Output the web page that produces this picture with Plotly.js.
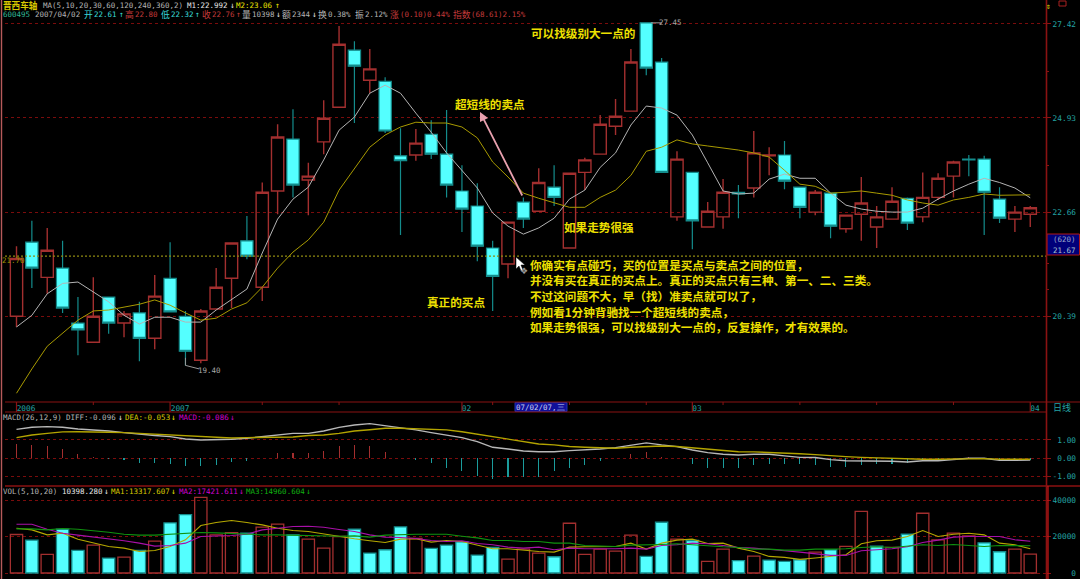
<!DOCTYPE html>
<html><head><meta charset="utf-8">
<script src="https://cdn.plot.ly/plotly-3.0.1.min.js"></script>
<style>html,body{margin:0;padding:0;background:#000;overflow:hidden}</style>
</head><body><div id="chart" style="width:1080px;height:579px"></div>
<script>
const open_=[20.39,21.98,21.21,21.41,20.25,19.86,20.79,20.25,20.46,19.94,21.19,20.39,19.50,20.54,21.19,22.01,21.00,23.15,24.40,23.41,24.33,25.20,26.70,25.90,25.87,23.99,24.01,24.52,24.03,23.15,22.80,21.85,21.50,22.89,22.68,23.24,21.85,23.59,24.03,24.72,25.10,27.45,26.38,22.55,23.59,22.32,22.55,23.12,23.22,23.99,24.01,23.24,22.66,23.10,22.28,22.61,22.32,22.50,22.98,22.55,23.00,23.50,23.91,23.91,22.96,22.50,22.61];
const high_=[21.89,22.46,22.30,22.01,20.79,21.21,20.79,20.50,20.69,21.26,21.98,20.50,20.54,21.41,21.98,22.57,23.35,24.77,25.15,23.82,25.38,27.36,26.94,26.73,25.98,24.67,24.65,24.87,25.13,23.76,23.33,22.01,22.43,23.00,23.69,23.76,23.59,23.94,25.00,25.41,26.73,27.45,26.49,24.10,23.59,22.89,23.43,23.29,24.60,24.20,24.35,23.24,23.17,23.10,22.59,23.48,22.80,23.24,23.00,23.59,23.57,23.87,24.01,23.99,23.24,22.80,22.80];
const low_=[20.17,20.98,20.86,20.46,19.60,19.86,20.03,19.96,19.48,19.72,20.48,19.40,19.44,20.54,20.56,21.60,20.71,22.61,23.00,22.59,24.03,25.20,24.80,25.56,24.55,22.14,23.87,23.91,23.00,22.21,21.56,20.50,21.19,22.30,22.68,22.80,21.85,23.17,24.03,24.50,25.10,26.03,23.59,22.46,21.82,22.32,22.28,22.52,23.00,23.52,23.19,22.52,22.59,22.07,22.19,22.01,21.85,22.50,22.25,22.43,22.94,23.00,23.50,22.14,22.41,22.21,22.32];
const close_=[21.62,21.41,21.80,20.56,20.11,20.39,20.25,20.44,19.94,20.81,20.48,19.68,20.50,21.00,21.96,21.67,23.12,24.45,23.29,23.50,24.92,26.86,26.27,26.20,24.60,23.87,24.30,24.03,23.29,22.73,21.89,21.23,22.43,22.50,23.35,23.00,23.57,23.89,24.77,24.97,26.38,26.22,23.59,23.91,22.46,22.68,23.12,23.08,24.06,24.01,23.38,22.77,23.12,22.34,22.59,22.87,22.55,22.91,22.41,23.00,23.45,23.84,23.89,23.12,22.52,22.66,22.76];
const ma1=[20.17,20.41,20.86,21.08,21.11,20.90,20.69,20.41,20.23,20.37,20.37,20.27,20.27,20.52,20.73,20.96,21.74,22.50,22.96,23.24,23.89,24.62,24.95,25.56,25.77,25.56,25.05,24.57,24.06,23.64,23.22,22.64,22.34,22.16,22.30,22.52,22.96,23.17,23.71,24.06,24.75,25.23,25.18,25.00,24.50,23.82,23.15,23.08,23.10,23.43,23.55,23.45,23.45,23.10,22.82,22.73,22.68,22.66,22.66,22.75,22.96,23.15,23.31,23.45,23.35,23.22,22.99];
const ma2=[18.86,19.33,19.78,20.05,20.31,20.50,20.52,20.58,20.64,20.73,20.62,20.46,20.31,20.35,20.54,20.67,21.00,21.41,21.76,22.03,22.43,23.17,23.69,24.20,24.50,24.70,24.82,24.80,24.80,24.70,24.43,23.84,23.48,23.10,22.98,22.87,22.77,22.77,23.00,23.17,23.52,24.10,24.20,24.38,24.28,24.23,24.18,24.13,24.06,23.96,23.64,23.31,23.26,23.10,23.12,23.15,23.10,23.05,22.94,22.87,22.82,22.94,23.00,23.08,23.05,23.05,23.06];
const lastPrice=[21.67];
const priceTicks=[27.42,24.93,22.66,20.39];
const priceTickText=['27.42','24.93','22.66','20.39'];
const priceMinor=[26.14,23.76,21.52,20.96];
const diff=[1.58,1.69,1.73,1.69,1.60,1.55,1.49,1.40,1.31,1.24,1.18,1.05,1.00,1.00,1.04,1.09,1.18,1.31,1.36,1.36,1.49,1.69,1.82,1.89,1.78,1.67,1.55,1.40,1.27,1.13,0.91,0.60,0.51,0.40,0.36,0.36,0.42,0.45,0.51,0.58,0.73,0.84,0.73,0.64,0.45,0.31,0.22,0.18,0.22,0.22,0.13,0.05,0.04,-0.07,-0.13,-0.13,-0.13,-0.16,-0.20,-0.13,-0.13,-0.05,0,0,-0.11,-0.11,-0.096];
const dea=[1.13,1.27,1.36,1.44,1.45,1.45,1.42,1.40,1.36,1.33,1.27,1.24,1.18,1.15,1.11,1.13,1.13,1.15,1.16,1.24,1.27,1.36,1.49,1.56,1.64,1.64,1.60,1.55,1.55,1.45,1.31,1.18,1.04,0.91,0.78,0.73,0.64,0.60,0.58,0.55,0.60,0.65,0.67,0.64,0.58,0.51,0.44,0.36,0.35,0.33,0.29,0.25,0.20,0.13,0.09,0.05,0.02,0,-0.04,-0.05,-0.05,-0.04,-0.02,-0.02,-0.05,-0.05,-0.053];
const macd=[0.76,0.73,0.69,0.51,0.24,0.07,-0.05,-0.09,-0.25,-0.25,-0.31,-0.44,-0.44,-0.36,-0.22,-0.13,0.04,0.31,0.27,0.29,0.38,0.69,0.71,0.69,0.36,0.02,-0.11,-0.25,-0.51,-0.69,-0.95,-1.13,-1.04,-1.0,-1.0,-0.69,-0.51,-0.36,-0.15,0.02,0.25,0.36,0.05,0.02,-0.33,-0.51,-0.51,-0.51,-0.36,-0.31,-0.33,-0.33,-0.36,-0.45,-0.45,-0.36,-0.33,-0.29,-0.27,-0.15,-0.07,0.04,0.05,0.04,-0.05,-0.05,-0.086];
const macdTicks=[1,0,-1];
const macdTickText=['\u00a01.00','\u00a00.00','-1.00'];
const vol=[21090,18000,10180,24000,12360,15270,8180,8730,12360,17450,27450,32000,41450,20910,22180,21820,25090,26730,20910,18540,13640,20000,24000,10910,12730,25270,18910,13450,15270,17090,9820,14000,7640,13090,10910,8910,27270,10180,13090,12000,20730,9090,27820,18540,17820,6360,13090,6730,9270,7090,6360,7270,11450,12730,14550,33820,14730,14000,21270,32730,18180,21820,20360,16540,11640,13090,10398];
const volFalling=[0,1,0,1,1,0,1,0,1,0,1,1,0,0,0,1,0,0,1,0,0,0,1,1,1,1,0,1,1,1,1,1,0,0,0,1,0,0,0,0,0,1,1,0,1,0,0,1,0,1,1,1,0,1,0,0,1,0,1,0,0,0,0,1,1,0,0];
const volMa1=[24540,23640,20910,21820,18540,16360,14540,13640,11820,12360,14540,18180,26000,27640,28730,27640,26360,24540,23270,22730,21270,20000,18730,17640,16730,18540,18730,16910,17820,17270,15090,13270,13270,12360,11820,11450,14180,14360,14360,14540,16360,13090,16360,18000,18540,16180,16360,13640,11820,9090,8550,7450,8180,9090,10000,16000,17640,18000,20000,23270,20000,21270,21820,20910,16360,15450,13318];
const volMa2=[26730,26730,24000,21820,20730,19820,18730,17640,16360,14730,15090,16360,20000,20180,20540,21270,23640,24540,25450,25640,25090,23820,22730,20910,19640,19450,18910,17820,17270,17640,16180,15450,14180,13640,14180,12730,13640,13270,13090,13270,13640,13090,15090,15450,16360,16000,15090,14000,13640,12730,12180,11450,10540,9640,9640,12180,12730,13270,14360,16730,18000,19640,20000,20000,20000,18180,17422];
const volMa3=[24180,24180,23640,24360,24000,23270,22360,21270,20730,20730,21090,21450,22180,22000,21630,20910,20910,20910,20730,20360,20180,20180,20360,19640,20730,21090,21270,21270,21270,20180,19270,17820,17820,17270,17270,16360,16360,15090,14910,14540,15270,15270,15640,16000,15450,14540,14360,14000,13090,13090,12540,12540,13090,13090,13270,14000,14360,14000,14540,15450,15090,15640,15090,14540,15090,14910,14961];
const volTicks=[40000,20000,0];
const volTickText=['40000','20000','\u00a0\u00a0\u00a0\u00a00'];
const dateLabels=['2006','2007','02','03','04'];
const dateLabelPos=[0.62,10.65,29.3,44.3,66.3];
const dateMajor=[0,10,29,44,66];
const dateMinor=[5,16,21,31,36,41,46,51,56,61];

const W=1080,H=579;
const X0=5,X1=1046,PITCH=15.36,FIRST=16.5;
const xRange=[(X0-FIRST)/PITCH,(X1-FIRST)/PITCH];
const days=open_.map((_,i)=>i);
const px=x=>x/W, py=y=>1-y/H;
const dom=(top,bot)=>[py(bot),py(top)];

const MONO='"DejaVu Sans Mono","Liberation Mono",monospace';
const CJK='"Noto Sans CJK SC","Noto Sans",sans-serif';
const RED='#a32f2f',TEAL='#148c8c',CYAN='#54ffff',GRID='#7a0c0c';
const TICKC='#23a3a3',GREY='#b4b4b4',MAG='#d000d0',GRN='#10b010',WHT='#e6e6e6',RRED='#c23a3a',CY2='#38d8d8';

const traces=[
 {type:'candlestick',x:days,open:open_,high:high_,low:low_,close:close_,xaxis:'x',yaxis:'y',whiskerwidth:0,
  increasing:{line:{color:RED,width:1.4},fillcolor:'rgba(0,0,0,0)'},
  decreasing:{line:{color:TEAL,width:1.2},fillcolor:CYAN},hoverinfo:'skip'},
 {type:'scatter',mode:'lines',x:days,y:ma1,line:{color:'#b4b4b4',width:1},yaxis:'y'},
 {type:'scatter',mode:'lines',x:days,y:ma2,line:{color:'#a89a00',width:1},yaxis:'y'},
 {type:'scatter',mode:'lines',x:xRange,y:[lastPrice[0],lastPrice[0]],line:{color:'#8f8a10',width:1.3,dash:'2px,2px'},yaxis:'y'},
 {type:'scatter',mode:'lines',x:[41.3,42],y:[27.45,27.45],line:{color:'#999',width:1},yaxis:'y'},
 {type:'scatter',mode:'lines',x:[11,11,11.9],y:[19.55,19.40,19.33],line:{color:'#999',width:1},yaxis:'y'},
 {type:'bar',x:days,y:macd,width:0.07,yaxis:'y2',marker:{color:macd.map(v=>v>=0?RED:'#1b9c9c'),line:{width:0}}},
 {type:'scatter',mode:'lines',x:days,y:diff,line:{color:'#b8b8b8',width:1.4},yaxis:'y2'},
 {type:'scatter',mode:'lines',x:days,y:dea,line:{color:'#b3a400',width:1.4},yaxis:'y2'},
 {type:'bar',x:days,y:vol,width:0.8,yaxis:'y3',
  marker:{color:volFalling.map(f=>f?CYAN:'rgba(0,0,0,0)'),line:{color:volFalling.map(f=>f?TEAL:RED),width:1.3}}},
 {type:'scatter',mode:'lines',x:days,y:volMa1,line:{color:'#b5a800',width:1.1},yaxis:'y3'},
 {type:'scatter',mode:'lines',x:days,y:volMa2,line:{color:'#a810a8',width:1.1},yaxis:'y3'},
 {type:'scatter',mode:'lines',x:days,y:volMa3,line:{color:'#0f920f',width:1.1},yaxis:'y3'}
];

const annotations=[];
function label(text,x,y,color,size,font,anchor){
 annotations.push({text:text,xref:'paper',yref:'paper',x:px(x),y:py(y),xanchor:anchor||'left',yanchor:'middle',
  showarrow:false,font:{family:font||MONO,size:size||7.5,color:color},borderpad:0,borderwidth:0,align:'left'});
}
function note(text,x,y){label('<b>'+text+'</b>',x,y,'#eee000',11.6,CJK);}

// header line 1
label('<b>晋西车轴</b>',3,5.5,'#d8c800',8.6,'"DejaVu Sans Mono","Noto Sans CJK SC"');
label('MA(5,10,20,30,60,120,240,360,2)',43,5.5,GREY);
label('M1:22.992',187,5.5,WHT); label('↓',230,5.5,WHT,8);
label('M2:23.06',236,5.5,'#e8e000'); label('↑',275,5.5,'#e8e000',8);
// header line 2
label('600495',3,15,'#2fb795'); label('2007/04/02',35,15,GREY);
label('开',84,15,CY2,8.8,CJK); label('22.61',94,15,CY2); label('↑',119,15,CY2,8);
label('高',125,15,RRED,8.8,CJK); label('22.80',135,15,RRED);
label('低',161,15,CY2,8.8,CJK); label('22.32',171,15,CY2); label('↑',195,15,CY2,8);
label('收',202,15,RRED,8.8,CJK); label('22.76',212,15,RRED); label('↑',236,15,RRED,8);
label('量',242,15,GREY,8.8,CJK); label('10398',252,15,GREY); label('↓',276,15,WHT,8);
label('额',282,15,GREY,8.8,CJK); label('2344',292,15,GREY); label('↓',312,15,WHT,8);
label('换',318,15,GREY,8.8,CJK); label('0.38%',328,15,GREY);
label('振',355,15,GREY,8.8,CJK); label('2.12%',365,15,GREY);
label('涨',390,15,RRED,8.8,CJK); label('(0.10)0.44%',400,15,RRED);
label('指数',453,15,RRED,8.8,CJK); label('(68.61)2.15%',471,15,RRED);
// right corner icons
label('⇕',1046,6,'#e8e000',8);
// macd title
label('MACD(26,12,9)',3,417,GREY); label('DIFF:-0.096',66,417,GREY); label('↓',118,417,WHT,8);
label('DEA:-0.053',125,417,'#d8c800'); label('↓',171,417,'#e8e000',8);
label('MACD:-0.086',179,417,MAG); label('↓',230,417,MAG,8);
// vol title
label('VOL(5,10,20)',3,491,GREY); label('10398.280',62,491,WHT); label('↓',104,491,WHT,8);
label('MA1:13317.607',111,491,'#d8c800'); label('↓',171,491,'#e8e000',8);
label('MA2:17421.611',179,491,MAG); label('↓',239,491,MAG,8);
label('MA3:14960.604',246,491,GRN); label('↓',306,491,GRN,8);
// chart notes
note('可以找级别大一点的',531,33);
note('超短线的卖点',455,104);
note('如果走势很强',564,227);
note('真正的买点',427,302);
note('你确实有点碰巧，买的位置是买点与卖点之间的位置，',530,265);
note('并没有买在真正的买点上。真正的买点只有三种、第一、二、三类。',530,280);
note('不过这问题不大，早（找）准卖点就可以了，',530,296);
note('例如看1分钟背驰找一个超短线的卖点，',530,312);
note('如果走势很强，可以找级别大一点的，反复操作，才有效果的。',530,327);
// value labels
label('27.45',659,23,'#a8a8a8'); label('19.40',198,370,'#a8a8a8');
label('21.70',2,260,'#9c9000');
label('(620)',1053,240,'#9aa6c8'); label('21.67',1053,250,'#a8c0d0');
label('07/02/07,三',516,407,'#c8d0f0');
label('日线',1053,407,TICKC,9,CJK);
label('❖',520,271,'#9a9a9a',9,'"DejaVu Sans"');
// sell-point arrow
annotations.push({xref:'paper',yref:'paper',x:px(480),y:py(112),ax:43,ay:85,axref:'pixel',ayref:'pixel',text:'',showarrow:true,
 arrowhead:2,arrowsize:1,arrowwidth:1.8,arrowcolor:'#e8a0ae'});

const line=(x0,y0,x1,y1,c,w)=>({type:'line',xref:'paper',yref:'paper',x0:px(x0),y0:py(y0),x1:px(x1),y1:py(y1),line:{color:c,width:w||1},layer:'above'});
const shapes=[
 line(1.5,0,1.5,579,'#b65a5a',1.4),
 line(1046.5,0,1046.5,579,'#8a1212',1.6),
 line(5,402,1080,402,'#8a1212',1.2),
 line(5,412,1046,412,'#8a1212',1.2),
 line(5,486,1047,486,'#8a1212',1.4),
 line(1047,486,1080,486,'#d01818',1.2),
 line(1048,486,1048,579,'#d01818',1.2),
 {type:'rect',xref:'paper',yref:'paper',x0:px(1047),y0:py(255),x1:px(1079.5),y1:py(234),fillcolor:'#00007a',line:{color:'#b01818',width:1},layer:'below'},
 {type:'rect',xref:'paper',yref:'paper',x0:px(515),y0:py(411.5),x1:px(567),y1:py(402.5),fillcolor:'#10109a',line:{color:'#2030b0',width:1},layer:'below'},
 {type:'rect',xref:'paper',yref:'paper',x0:px(1059),y0:py(6),x1:px(1066),y1:py(1),fillcolor:'rgba(0,0,0,0)',line:{color:'#a82020',width:1},layer:'above'},
 {type:'path',xref:'paper',yref:'paper',fillcolor:'#ffffff',line:{color:'#000',width:0.5},layer:'above',
  path:'M '+[[516,257],[516,269],[519,266],[521,271],[523,270],[521,265],[525,265]].map(p=>px(p[0])+' '+py(p[1])).join(' L ')+' Z'}
];
dateMajor.forEach(i=>shapes.push({type:'line',xref:'x',yref:'paper',x0:i,x1:i,y0:py(402),y1:py(412),line:{color:'#8a1212',width:1.2},layer:'above'}));
dateMinor.forEach(i=>shapes.push({type:'line',xref:'x',yref:'paper',x0:i,x1:i,y0:py(402),y1:py(405),line:{color:'#8a1212',width:1},layer:'above'}));

const rAxis=(vals,text,extra)=>Object.assign({side:'right',anchor:'x',tickmode:'array',tickvals:vals,ticktext:text,
 tickfont:{family:MONO,size:7.8,color:TICKC},ticks:'outside',ticklen:4,tickcolor:'#8a1212',tickwidth:1,
 showline:false,zeroline:false,showgrid:true,gridcolor:GRID,griddash:'dot',gridwidth:1,fixedrange:true},extra);

const logTop=1.3553+(212-16)*0.00044003, logBot=1.3553-(402-212)*0.00044003;
const layout={
 width:W,height:H,margin:{l:0,r:0,t:0,b:0},paper_bgcolor:'#000',plot_bgcolor:'#000',showlegend:false,hovermode:false,bargap:0,barmode:'overlay',
 boxgap:0.2,boxgroupgap:0,boxmode:'overlay',
 xaxis:{domain:[px(X0),px(X1)],range:xRange,anchor:'y',side:'bottom',tickmode:'array',tickvals:dateLabelPos,ticktext:dateLabels,
  ticks:'',tickfont:{family:MONO,size:7.8,color:TICKC},showgrid:false,zeroline:false,showline:false,rangeslider:{visible:false},tickangle:0,fixedrange:true},
 yaxis:rAxis(priceTicks,priceTickText,{type:'log',domain:dom(16,402),range:[logBot,logTop],
  minor:{tickmode:'array',tickvals:priceMinor,ticks:'outside',ticklen:2,tickcolor:'#8a1212',showgrid:false}}),
 yaxis2:rAxis(macdTicks,macdTickText,{domain:dom(412,486),range:[(458.3-486)/18.33,(458.3-412)/18.33]}),
 yaxis3:rAxis(volTicks,volTickText,{domain:dom(486,579),range:[(573-579)*548,(573-486)*548]}),
 annotations:annotations,shapes:shapes
};
Plotly.newPlot('chart',traces,layout,{staticPlot:true,displayModeBar:false});
</script></body></html>
